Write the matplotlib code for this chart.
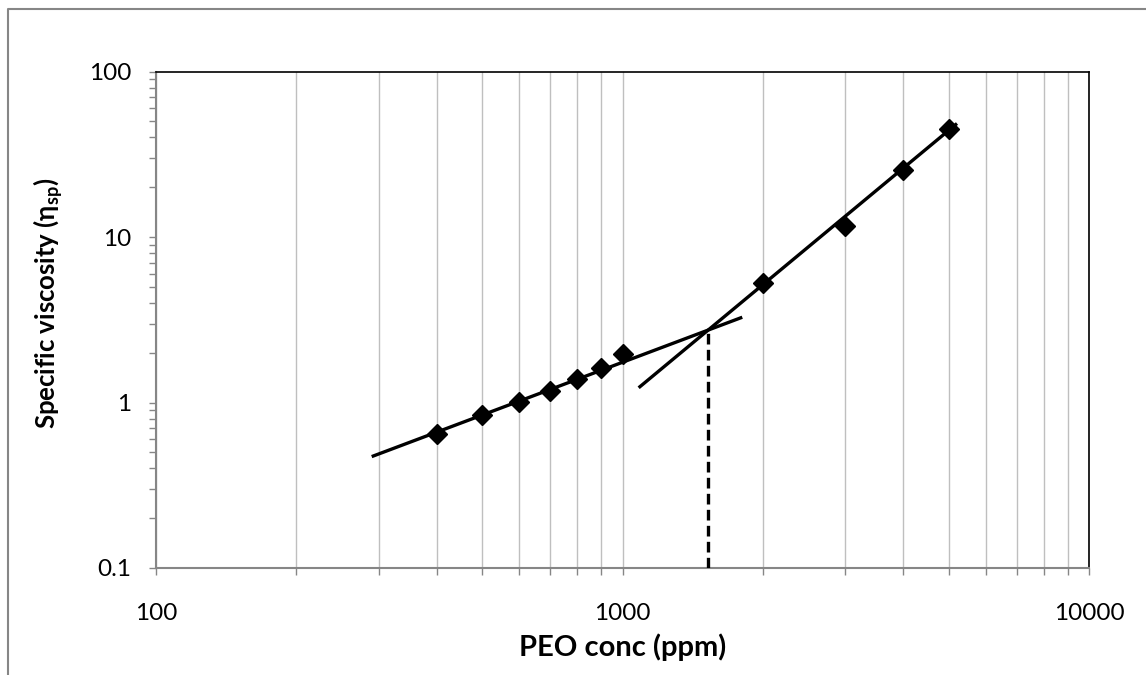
import matplotlib

matplotlib.use("Agg")

import matplotlib.pyplot as plt
import numpy as np
from matplotlib.lines import Line2D
from matplotlib.ticker import LogLocator, NullFormatter, FixedLocator, FixedFormatter

plt.rcParams["font.family"] = ["Lato", "DejaVu Sans"]
plt.rcParams["mathtext.fontset"] = "custom"
plt.rcParams["mathtext.rm"] = "Lato"
plt.rcParams["mathtext.bf"] = "Lato:bold"

# measured data: PEO concentration (ppm) vs specific viscosity
conc = [400, 500, 600, 700, 800, 900, 1000, 2000, 3000, 4000, 5000]
eta_sp = [0.647, 0.84, 1.01, 1.18, 1.39, 1.62, 1.95, 5.25, 11.65, 25.4, 45.0]

# power-law fits eta = 10**log_a * c**n, drawn over the given ranges
dilute_fit = {"n": 1.06, "log_a": -2.937, "range": (290, 1806)}
semidilute_fit = {"n": 2.34, "log_a": -7.012, "range": (1083, 5212)}

x_ticks = [100, 1000, 10000]
x_tick_labels = ["100", "1000", "10000"]
y_ticks = [0.1, 1, 10, 100]
y_tick_labels = ["0.1", "1", "10", "100"]

GRAY = "#868686"
GRID = "#bfbfbf"

fig = plt.figure(figsize=(11.46, 6.75), dpi=100)
ax = fig.add_axes([156 / 1146, 1 - 568 / 675, (1089 - 156) / 1146, (568 - 71.5) / 675])
ax.set_xscale("log")
ax.set_yscale("log")
ax.set_xlim(100, 10000)
ax.set_ylim(0.1, 100)

# vertical gridlines at major + minor x positions
ax.xaxis.set_minor_locator(LogLocator(base=10, subs=np.arange(2, 10)))
ax.yaxis.set_minor_locator(LogLocator(base=10, subs=np.arange(2, 10)))
ax.xaxis.set_minor_formatter(NullFormatter())
ax.yaxis.set_minor_formatter(NullFormatter())
ax.xaxis.set_major_locator(FixedLocator(x_ticks))
ax.xaxis.set_major_formatter(FixedFormatter(x_tick_labels))
ax.yaxis.set_major_locator(FixedLocator(y_ticks))
ax.yaxis.set_major_formatter(FixedFormatter(y_tick_labels))
ax.grid(True, which="both", axis="x", color=GRID, linewidth=1.0)
ax.set_axisbelow(True)

ax.tick_params(axis="both", which="both", direction="out", length=5,
               width=1, color=GRAY, labelsize=17.5, labelcolor="black")
ax.tick_params(axis="x", which="major", pad=20)
ax.tick_params(axis="y", which="major", pad=13)

for side in ("left", "bottom"):
    ax.spines[side].set_color(GRAY)
    ax.spines[side].set_linewidth(1.5)
for side in ("top", "right"):
    ax.spines[side].set_color("black")
    ax.spines[side].set_linewidth(1.2)

# fit lines
for fit in (dilute_fit, semidilute_fit):
    xs = np.array(fit["range"], dtype=float)
    ys = 10 ** fit["log_a"] * xs ** fit["n"]
    ax.plot(xs, ys, color="black", linewidth=2.4, solid_capstyle="butt", zorder=3)

# intersection -> dashed drop line
log_c = (semidilute_fit["log_a"] - dilute_fit["log_a"]) / (dilute_fit["n"] - semidilute_fit["n"])
c_star = 10 ** log_c
eta_star = 10 ** (dilute_fit["log_a"] + dilute_fit["n"] * log_c)
ax.plot([c_star, c_star], [0.1, eta_star], color="black", linewidth=2.4,
        linestyle=(0, (3.2, 1.6)), zorder=3)

ax.plot(conc, eta_sp, linestyle="none", marker="D", markersize=10,
        color="black", zorder=4)

ax.set_xlabel("PEO conc (ppm)", fontsize=21, fontweight="bold", labelpad=7)
ax.set_ylabel("Specific viscosity (η$_{\\mathbf{sp}}$)", fontsize=18.5,
              fontweight="bold")
ax.yaxis.set_label_coords(-0.097, 0.533)

# chart-area border (only left and top visible in the crop)
fig.add_artist(Line2D([8 / 1146, 8 / 1146, 1.0], [0.0, 1 - 8.7 / 675, 1 - 8.7 / 675],
                      transform=fig.transFigure, color=GRAY, linewidth=1.5))

fig.savefig("out.png", dpi=100)
